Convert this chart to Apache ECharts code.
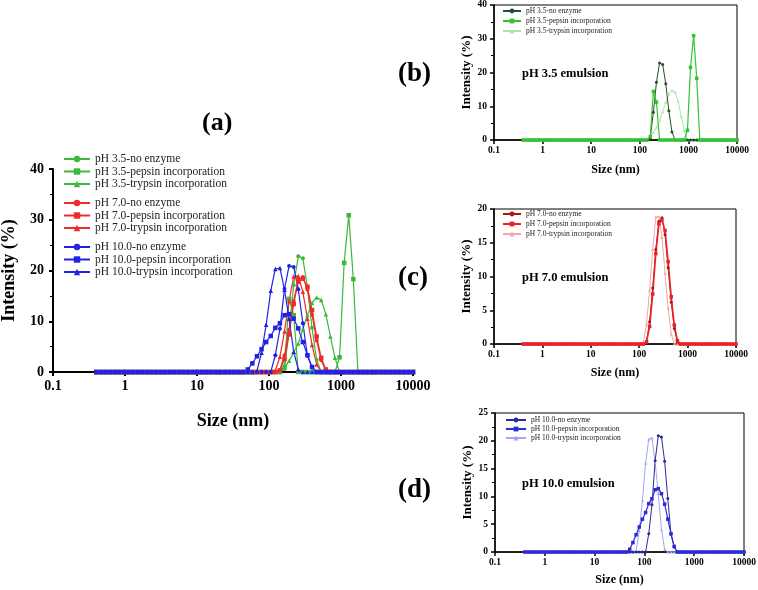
<!DOCTYPE html>
<html>
<head>
<meta charset="utf-8">
<script src="https://cdn.jsdelivr.net/npm/echarts@6/dist/echarts.min.js"></script>
<style>
  html, body { margin: 0; padding: 0; background: #fff; }
  #chart { width: 758px; height: 590px; }
</style>
</head>
<body>
<div id="chart"></div>
<script>
// particle size bins (nm)
const sizes = [
  0.4, 0.4632, 0.5365, 0.6213, 0.7195, 0.8332, 0.9649, 1.117, 1.294, 1.499,
  1.736, 2.01, 2.328, 2.696, 3.122, 3.615, 4.187, 4.849, 5.615, 6.503,
  7.531, 8.721, 10.1, 11.7, 13.54, 15.69, 18.17, 21.04, 24.36, 28.21,
  32.67, 37.84, 43.82, 50.75, 58.77, 68.06, 78.82, 91.28, 105.7, 122.4,
  141.8, 164.2, 190.1, 220.2, 255, 295.3, 342, 396.1, 458.7, 531.2,
  615.1, 712.4, 825, 955.4, 1106, 1281, 1484, 1718, 1990, 2305,
  2669, 3091, 3580, 4145, 4801, 5560, 6439, 7456, 8635, 10000
]

// intensity (%)
const ph35None = [
  0, 0, 0, 0, 0, 0, 0, 0, 0, 0,
  0, 0, 0, 0, 0, 0, 0, 0, 0, 0,
  0, 0, 0, 0, 0, 0, 0, 0, 0, 0,
  0, 0, 0, 0, 0, 0, 0, 0, 0, 0,
  0, 0.6, 8.2, 17.1, 22.8, 22.4, 16.7, 8.7, 2.4, 0,
  0, 0, 0, 0, 0, 0, 0, 0, 0, 0,
  0, 0, 0, 0, 0, 0, 0, 0, 0, 0
]
const ph35Pepsin = [
  0, 0, 0, 0, 0, 0, 0, 0, 0, 0,
  0, 0, 0, 0, 0, 0, 0, 0, 0, 0,
  0, 0, 0, 0, 0, 0, 0, 0, 0, 0,
  0, 0, 0, 0, 0, 0, 0, 0, 0, 0,
  0, 1.0, 14.4, 11.2, 0, 0, 0, 0, 0, 0,
  0, 0, 0, 2.9, 21.5, 30.9, 18.3, 0, 0, 0,
  0, 0, 0, 0, 0, 0, 0, 0, 0, 0
]
const ph35Trypsin = [
  0, 0, 0, 0, 0, 0, 0, 0, 0, 0,
  0, 0, 0, 0, 0, 0, 0, 0, 0, 0,
  0, 0, 0, 0, 0, 0, 0, 0, 0, 0,
  0, 0, 0, 0, 0, 0, 0, 0, 0, 0,
  0, 0.8, 2.2, 3.8, 5.6, 8.4, 11.2, 13.6, 14.7, 14.2,
  11.4, 7.0, 2.8, 0, 0, 0, 0, 0, 0, 0,
  0, 0, 0, 0, 0, 0, 0, 0, 0, 0
]
const ph70None = [
  0, 0, 0, 0, 0, 0, 0, 0, 0, 0,
  0, 0, 0, 0, 0, 0, 0, 0, 0, 0,
  0, 0, 0, 0, 0, 0, 0, 0, 0, 0,
  0, 0, 0, 0, 0, 0, 0, 0, 0, 0,
  0.4, 3.3, 8.3, 14.0, 18.2, 18.7, 16.2, 11.3, 6.2, 2.3,
  0.3, 0, 0, 0, 0, 0, 0, 0, 0, 0,
  0, 0, 0, 0, 0, 0, 0, 0, 0, 0
]
const ph70Pepsin = [
  0, 0, 0, 0, 0, 0, 0, 0, 0, 0,
  0, 0, 0, 0, 0, 0, 0, 0, 0, 0,
  0, 0, 0, 0, 0, 0, 0, 0, 0, 0,
  0, 0, 0, 0, 0, 0, 0, 0, 0, 0,
  0.3, 2.6, 7.4, 13.4, 17.8, 18.4, 16.8, 12.2, 7.0, 2.8,
  0.5, 0, 0, 0, 0, 0, 0, 0, 0, 0,
  0, 0, 0, 0, 0, 0, 0, 0, 0, 0
]
const ph70Trypsin = [
  0, 0, 0, 0, 0, 0, 0, 0, 0, 0,
  0, 0, 0, 0, 0, 0, 0, 0, 0, 0,
  0, 0, 0, 0, 0, 0, 0, 0, 0, 0,
  0, 0, 0, 0, 0, 0, 0, 0, 0, 0.3,
  3.0, 8.0, 14.0, 18.8, 18.9, 15.8, 10.5, 5.3, 1.5, 0,
  0, 0, 0, 0, 0, 0, 0, 0, 0, 0,
  0, 0, 0, 0, 0, 0, 0, 0, 0, 0
]
const ph10None = [
  0, 0, 0, 0, 0, 0, 0, 0, 0, 0,
  0, 0, 0, 0, 0, 0, 0, 0, 0, 0,
  0, 0, 0, 0, 0, 0, 0, 0, 0, 0,
  0, 0, 0, 0, 0, 0, 0, 0, 0, 3.3,
  8.5, 16.4, 20.9, 20.7, 16.3, 9.6, 3.2, 0.9, 0, 0,
  0, 0, 0, 0, 0, 0, 0, 0, 0, 0,
  0, 0, 0, 0, 0, 0, 0, 0, 0, 0
]
const ph10Pepsin = [
  0, 0, 0, 0, 0, 0, 0, 0, 0, 0,
  0, 0, 0, 0, 0, 0, 0, 0, 0, 0,
  0, 0, 0, 0, 0, 0, 0, 0, 0, 0,
  0, 0, 0, 0.5, 1.7, 3.1, 4.5, 5.9, 7.1, 8.7,
  9.6, 11.2, 11.4, 10.5, 8.6, 5.9, 3.3, 1.0, 0, 0,
  0, 0, 0, 0, 0, 0, 0, 0, 0, 0,
  0, 0, 0, 0, 0, 0, 0, 0, 0, 0
]
const ph10Trypsin = [
  0, 0, 0, 0, 0, 0, 0, 0, 0, 0,
  0, 0, 0, 0, 0, 0, 0, 0, 0, 0,
  0, 0, 0, 0, 0, 0, 0, 0, 0, 0,
  0, 0, 0, 0, 0, 0.2, 3.8, 9.3, 16.0, 20.3,
  20.5, 16.2, 10.5, 4.0, 0.5, 0, 0, 0, 0, 0,
  0, 0, 0, 0, 0, 0, 0, 0, 0, 0,
  0, 0, 0, 0, 0, 0, 0, 0, 0, 0
]

const names35 = ['pH 3.5-no enzyme', 'pH 3.5-pepsin incorporation', 'pH 3.5-trypsin incorporation']
const names70 = ['pH 7.0-no enzyme', 'pH 7.0-pepsin incorporation', 'pH 7.0-trypsin incorporation']
const names10 = ['pH 10.0-no enzyme', 'pH 10.0-pepsin incorporation', 'pH 10.0-trypsin incorporation']
const yMax = [40, 40, 20, 25]
const yStep = [10, 10, 5, 5]

const SERIF = '"Liberation Serif", "Times New Roman", serif'
const GREEN = '#3cb83c', RED = '#f02a2a', BLUE = '#2222e6'

const chart = echarts.init(document.getElementById('chart'))

function pts(vals) {
  return sizes.map((s, i) => [s, vals[i]])
}

function line(name, vals, gi, color, symbol, size, width) {
  return {
    name: name,
    type: 'line',
    xAxisIndex: gi,
    yAxisIndex: gi,
    data: pts(vals),
    symbol: symbol,
    symbolSize: size,
    showSymbol: true,
    color: color,
    itemStyle: { color: color },
    lineStyle: { color: color, width: width },
    emphasis: { disabled: true }
  }
}

function xAxis(gi, fs, nameFs, gap, lw, margin) {
  return {
    type: 'log', gridIndex: gi, logBase: 10, min: 0.1, max: 10000,
    name: 'Size (nm)', nameLocation: 'middle', nameGap: gap,
    nameTextStyle: { fontFamily: SERIF, fontWeight: 'bold', fontSize: nameFs, color: '#000' },
    axisLine: { lineStyle: { color: '#000', width: lw } },
    axisTick: { length: 4, lineStyle: { color: '#000', width: lw } },
    axisLabel: {
      fontFamily: SERIF, fontWeight: 'bold', fontSize: fs, color: '#000', margin: margin,
      formatter: v => String(Number(v.toPrecision(3)))
    },
    splitLine: { show: false }
  }
}

function yAxis(gi, fs, nameFs, gap, lw, margin) {
  return {
    type: 'value', gridIndex: gi, min: 0, max: yMax[gi], interval: yStep[gi],
    name: 'Intensity (%)', nameLocation: 'middle', nameGap: gap,
    nameTextStyle: { fontFamily: SERIF, fontWeight: 'bold', fontSize: nameFs, color: '#000' },
    axisLine: { show: true, lineStyle: { color: '#000', width: lw } },
    axisTick: { show: true, length: 4, lineStyle: { color: '#000', width: lw } },
    minorTick: { show: true, splitNumber: 2, length: 3, lineStyle: { color: '#000', width: 1 } },
    axisLabel: { fontFamily: SERIF, fontWeight: 'bold', fontSize: fs, color: '#000', margin: margin },
    splitLine: { show: false }
  }
}

function legend(names, left, top, fs, lh, iw, ih, gap, prefix) {
  return {
    orient: 'vertical', left: left, top: top, padding: 0,
    itemWidth: iw, itemHeight: ih, itemGap: gap,
    data: names.map(n => prefix + n),
    formatter: n => n.slice(prefix.length),
    textStyle: { fontFamily: SERIF, fontSize: fs, lineHeight: lh, color: '#222' }
  }
}

function label(text, x, y, fs) {
  return {
    type: 'text', x: x, y: y,
    style: { text: text, font: 'bold ' + fs + 'px ' + SERIF, fill: '#000', align: 'left', verticalAlign: 'middle' }
  }
}

const series = [
  // (a) all together
  line(names35[0], ph35None, 0, GREEN, 'circle', 4, 1.2),
  line(names35[1], ph35Pepsin, 0, GREEN, 'rect', 4.5, 1.2),
  line(names35[2], ph35Trypsin, 0, GREEN, 'triangle', 4.5, 1.2),
  line(names70[0], ph70None, 0, RED, 'circle', 4, 1.2),
  line(names70[1], ph70Pepsin, 0, RED, 'rect', 4.5, 1.2),
  line(names70[2], ph70Trypsin, 0, RED, 'triangle', 4.5, 1.2),
  line(names10[0], ph10None, 0, BLUE, 'circle', 4, 1.2),
  line(names10[1], ph10Pepsin, 0, BLUE, 'rect', 4.5, 1.2),
  line(names10[2], ph10Trypsin, 0, BLUE, 'triangle', 4.5, 1.2),
  // (b)
  line('b:' + names35[2], ph35Trypsin, 1, '#a9e6a9', 'triangle', 3, 1),
  line('b:' + names35[0], ph35None, 1, '#24512a', 'circle', 3, 1),
  line('b:' + names35[1], ph35Pepsin, 1, '#33c433', 'rect', 3.5, 1.2),
  // (c)
  line('c:' + names70[2], ph70Trypsin, 2, '#f5a5a5', 'triangle', 3, 1),
  line('c:' + names70[0], ph70None, 2, '#a11b1b', 'circle', 3, 1),
  line('c:' + names70[1], ph70Pepsin, 2, '#ec2222', 'rect', 3.5, 1.6),
  // (d)
  line('d:' + names10[2], ph10Trypsin, 3, '#a5a5ee', 'triangle', 3, 1),
  line('d:' + names10[0], ph10None, 3, '#2a2a9c', 'circle', 3, 1),
  line('d:' + names10[1], ph10Pepsin, 3, '#2b2bd8', 'rect', 3.5, 1.2)
]

const option = {
  animation: false,
  backgroundColor: '#fff',
  grid: [
    { left: 53, top: 169, width: 360, height: 203, outerBoundsMode: 'none' },
    { left: 494, top: 5, width: 243, height: 135, show: true, borderColor: '#000', borderWidth: 1, outerBoundsMode: 'none' },
    { left: 494, top: 209, width: 242, height: 135, show: true, borderColor: '#000', borderWidth: 1, outerBoundsMode: 'none' },
    { left: 495, top: 413, width: 249, height: 139, show: true, borderColor: '#000', borderWidth: 1, outerBoundsMode: 'none' }
  ],
  xAxis: [
    xAxis(0, 14, 18, 40, 2, 7),
    xAxis(1, 9.5, 12, 24, 1.5, 6),
    xAxis(2, 9.5, 12, 23, 1.5, 6),
    xAxis(3, 9.5, 12, 22, 1.5, 6)
  ],
  yAxis: [
    yAxis(0, 14, 18, 35, 2, 9),
    yAxis(1, 9.5, 13, 15.5, 1.5, 7),
    yAxis(2, 9.5, 13, 16, 1.5, 7),
    yAxis(3, 9.5, 13, 17, 1.5, 7)
  ],
  legend: [
    legend(names35, 63, 153, 11.5, 12, 26, 8, 0.5, ''),
    legend(names70, 63, 197, 11.5, 12, 26, 8, 0.5, ''),
    legend(names10, 63, 241, 11.5, 12, 26, 8, 0.5, ''),
    legend(names35, 502, 6.5, 7.5, 9, 18, 6, 1, 'b:'),
    legend(names70, 502, 209.5, 7.5, 9, 18, 6, 1, 'c:'),
    legend(names10, 505, 416, 7.5, 8, 20, 6, 1, 'd:')
  ],
  graphic: [
    label('(a)', 202, 123, 26),
    label('(b)', 398, 74, 27),
    label('(c)', 398, 278, 27),
    label('(d)', 398, 490, 27),
    label('pH 3.5 emulsion', 522, 74, 12.5),
    label('pH 7.0 emulsion', 522, 278, 12.5),
    label('pH 10.0 emulsion', 522, 484, 12.5)
  ],
  series: series
}

chart.setOption(option)
</script>
</body>
</html>
